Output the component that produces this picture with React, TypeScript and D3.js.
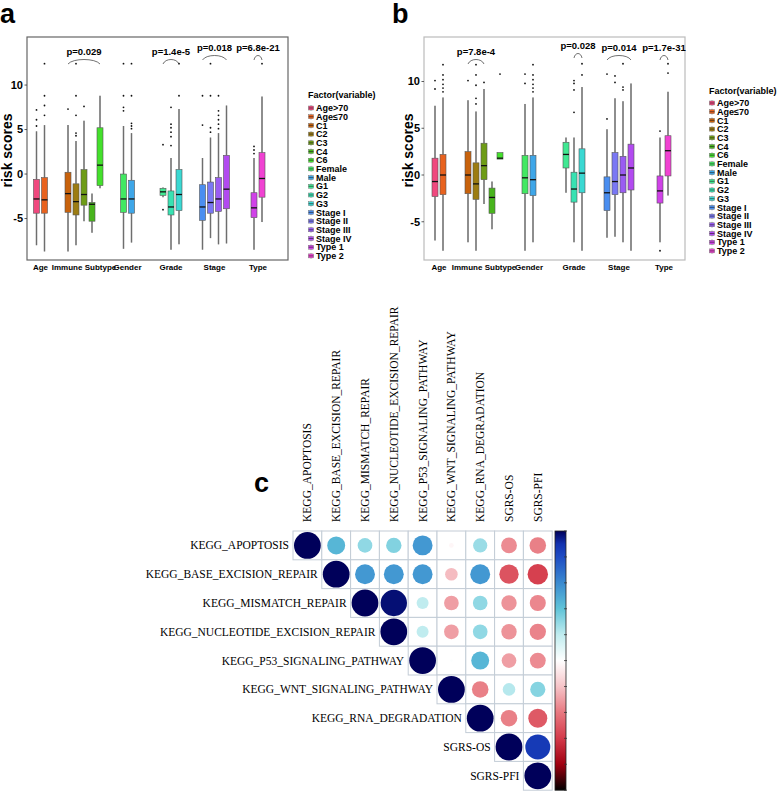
import React from 'react';
import * as d3 from 'd3';

const groups = ["Age", "Immune Subtype", "Gender", "Grade", "Stage", "Type"];
const factors = ["Age>70", "Age≤70", "C1", "C2", "C3", "C4", "C6", "Female", "Male", "G1", "G2", "G3", "Stage I", "Stage II", "Stage III", "Stage IV", "Type 1", "Type 2"];
const factorGroup = [0, 0, 1, 1, 1, 1, 1, 2, 2, 3, 3, 3, 4, 4, 4, 4, 5, 5];
const factorColors = ["#F0487E", "#E8621E", "#C8620C", "#9C7C12", "#6E9C16", "#48B41C", "#44E02C", "#42E862", "#3EA6E8", "#40E892", "#38E2B2", "#3AD8D2", "#4A8EF0", "#7A78F4", "#9A5CF2", "#B24AF0", "#D042E8", "#F042D2"];

// [lower whisker, Q1, median, Q3, upper whisker]
const statsA = [
  [-8.0, -4.4, -2.8, -0.6, 4.8], [-8.7, -4.4, -2.9, -0.4, 5.5],
  [-8.7, -4.3, -2.2, 0.2, 5.5], [-8.0, -4.6, -3.1, -1.1, 3.7], [-5.3, -3.5, -2.3, 0.5, 6.0], [-6.6, -5.3, -3.4, -3.2, -2.2], [-1.6, -1.3, 1.0, 5.2, 8.8],
  [-8.4, -4.3, -2.8, 0.0, 5.4], [-7.7, -4.4, -2.8, -0.7, 4.6],
  [-2.6, -2.4, -2.0, -1.6, -1.5], [-8.5, -4.6, -3.7, -1.9, 1.8], [-7.9, -4.1, -2.3, 0.5, 7.3],
  [-8.5, -5.2, -3.7, -1.2, 1.8], [-7.2, -4.4, -3.2, -0.9, 4.1], [-7.9, -4.2, -2.8, -0.4, 4.6], [-7.8, -3.9, -1.7, 2.1, 7.7],
  [-8.5, -4.9, -3.8, -2.1, 1.8], [-5.4, -2.6, -0.5, 2.4, 8.7],
];
const outliersA = [
  [5.4, 6.1, 7.2], [6.6, 7.7, 8.8, 12.4],
  [7.3], [4.3, 4.6, 6.6, 8.8, 12.4], [7.6], [], [],
  [7.1, 7.5, 8.8, 12.4], [5.1, 5.4, 5.7, 8.8, 12.4],
  [3.3, -4.0], [3.2, 4.2, 4.7, 5.2, 5.6, 7.5], [8.8, 12.4],
  [5.5, 8.8], [4.7, 5.2, 8.8, 12.4], [5.1, 5.6, 6.1, 6.6, 7.1, 8.8], [],
  [2.3, 2.7, 3.1], [12.4],
];
const statsB = [
  [-7.0, -2.3, -0.7, 1.8, 7.4], [-8.1, -2.1, 0.0, 2.2, 8.3],
  [-7.2, -2.0, 0.0, 2.5, 8.0], [-8.1, -2.6, -0.95, 1.3, 6.8], [-3.1, -0.5, 1.0, 3.4, 9.2], [-5.8, -4.1, -2.4, -1.4, -0.7], [1.7, 1.7, 1.8, 2.4, 2.4],
  [-8.1, -2.0, -0.3, 2.1, 7.6], [-7.2, -2.2, -0.5, 2.1, 8.3],
  [-1.9, 0.75, 2.2, 3.5, 4.0], [-7.2, -2.9, -1.5, 0.3, 4.0], [-8.1, -1.9, 0.2, 2.8, 9.4],
  [-6.7, -3.8, -1.9, -0.2, 4.9], [-6.6, -2.1, -0.7, 2.4, 8.2], [-7.2, -1.9, 0.0, 2.0, 7.9], [-8.1, -1.6, 0.75, 3.3, 9.8],
  [-7.2, -3.0, -1.7, -0.1, 4.0], [-2.2, -0.1, 2.6, 4.2, 8.9],
];
const outliersB = [
  [9.2, 10.1], [8.9, 9.3, 9.7, 10.2, 10.7, 11.8],
  [10.1], [7.6, 8.2, 9.6, 10.7, 11.8], [9.9], [], [10.8],
  [9.8, 10.8], [8.9, 9.3, 9.7, 10.2, 10.7, 11.8],
  [], [6.7, 9.1, 9.8, 10.1], [10.7, 11.9],
  [6.0, 10.8], [9.9, 10.6], [9.1, 9.4, 11.9], [],
  [4.7, -8.1], [10.9, 11.9],
];
const yTicks = [-5, 0, 5, 10];
const pLabelsA = ["p=0.029", "p=1.4e-5", "p=0.018", "p=6.8e-21"];
const pSpansA = [[2, 6], [9, 11], [12, 15], [16, 17]];
const pBaseA = [55, 55, 51, 51];
const pLabelsB = ["p=7.8e-4", "p=0.028", "p=0.014", "p=1.7e-31"];
const pSpansB = [[2, 4], [10, 11], [12, 15], [16, 17]];
const pBaseB = [55, 49, 51, 51];

const corrVars = ["KEGG_APOPTOSIS", "KEGG_BASE_EXCISION_REPAIR", "KEGG_MISMATCH_REPAIR", "KEGG_NUCLEOTIDE_EXCISION_REPAIR", "KEGG_P53_SIGNALING_PATHWAY", "KEGG_WNT_SIGNALING_PATHWAY", "KEGG_RNA_DEGRADATION", "SGRS-OS", "SGRS-PFI"];
// upper triangle rows, starting at the diagonal
const corrUpper = [
  [1, 0.45, 0.3, 0.33, 0.55, -0.03, 0.28, -0.35, -0.38],
  [1, 0.55, 0.55, 0.55, -0.22, 0.55, -0.52, -0.58],
  [1, 0.97, 0.2, -0.3, 0.3, -0.33, -0.36],
  [1, 0.2, -0.3, 0.3, -0.33, -0.37],
  [1, 0.01, 0.45, -0.3, -0.35],
  [1, -0.38, 0.22, 0.32],
  [1, -0.38, -0.5],
  [1, 0.87],
  [1],
];
const colorStops = [-1, -0.8, -0.6, -0.4, -0.2, 0, 0.2, 0.4, 0.6, 0.8, 0.9, 1];
const colorValues = ["#000000", "#a00010", "#d43a4a", "#e87880", "#f6c4c8", "#ffffff", "#c0ecef", "#60c4d8", "#3a8ad0", "#1e4cc4", "#1232b0", "#00005a"];
const barTicks = d3.range(-1, 1.0001, 0.2);

const SANS = "'Liberation Sans', Arial, Helvetica, sans-serif";
const SERIF = "'Liberation Serif', 'Times New Roman', serif";

function BoxPanel(props: any) {
  const { stats, outliers, left, right, top, bottom, domain, groupRange, frameColor, pLabels, pSpans, pBase, label, labelX, ylabX, legendX, legendTitleY, legendY0 } = props;
  const y = d3.scaleLinear().domain(domain).range([bottom, top]);
  const gx = d3.scalePoint().domain(groups).range(groupRange);
  const step = 8;
  const bw = 6;
  const cx = factors.map((f, i) => {
    const g = factorGroup[i];
    const members = factorGroup.map((v, j) => (v === g ? j : -1)).filter((j) => j >= 0);
    const k = members.indexOf(i);
    return (gx(groups[g]) as number) + (k - (members.length - 1) / 2) * step;
  });
  return (
    <g>
      <text x={labelX} y={23} fontFamily={SANS} fontWeight="bold" fontSize={27}>{label}</text>
      <rect x={left} y={top} width={right - left} height={bottom - top} fill="#fff" stroke={frameColor} strokeWidth={1.2} />
      {yTicks.map((t) => (
        <g key={t}>
          <line x1={left - 2.5} x2={left} y1={y(t)} y2={y(t)} stroke="#333" strokeWidth={0.8} />
          <text x={left - 4} y={y(t)} dy="0.35em" textAnchor="end" fontFamily={SANS} fontWeight="bold" fontSize={11}>{t}</text>
        </g>
      ))}
      <text transform={`translate(${ylabX},${(top + bottom) / 2 + 2}) rotate(-90)`} textAnchor="middle" fontFamily={SANS} fontWeight="bold" fontSize={14}>risk scores</text>
      {groups.map((g) => (
        <text key={g} x={gx(g)} y={270} textAnchor="middle" fontFamily={SANS} fontWeight="bold" fontSize={8}>{g}</text>
      ))}
      {stats.map((s: number[], i: number) => (
        <g key={i}>
          <line x1={cx[i]} x2={cx[i]} y1={y(s[4])} y2={y(s[3])} stroke="#8a8a8a" strokeWidth={1.6} />
          <line x1={cx[i]} x2={cx[i]} y1={y(s[1])} y2={y(s[0])} stroke="#8a8a8a" strokeWidth={1.6} />
          <line x1={cx[i]} x2={cx[i]} y1={y(s[4])} y2={y(s[3])} stroke="#444" strokeWidth={0.4} />
          <line x1={cx[i]} x2={cx[i]} y1={y(s[1])} y2={y(s[0])} stroke="#444" strokeWidth={0.4} />
          <rect x={cx[i] - bw / 2} y={y(s[3])} width={bw} height={Math.max(1, y(s[1]) - y(s[3]))} fill={factorColors[i]} stroke="#555" strokeWidth={0.6} />
          <line x1={cx[i] - bw / 2} x2={cx[i] + bw / 2} y1={y(s[2])} y2={y(s[2])} stroke="#111" strokeWidth={1.3} />
          {outliers[i].map((o: number, j: number) => (
            <circle key={j} cx={cx[i]} cy={y(o)} r={0.9} fill="#111" />
          ))}
        </g>
      ))}
      {pLabels.map((p: string, i: number) => {
        const x1 = cx[pSpans[i][0]];
        const x2 = cx[pSpans[i][1]];
        const b = pBase[i];
        const mid = (x1 + x2) / 2;
        const path = d3.path();
        path.moveTo(x1, b + 9);
        path.bezierCurveTo(x1 + (x2 - x1) * 0.15, b + 3, x2 - (x2 - x1) * 0.15, b + 3, x2, b + 9);
        return (
          <g key={p}>
            <path d={path.toString()} fill="none" stroke="#333" strokeWidth={0.7} />
            <text x={mid} y={b} textAnchor="middle" fontFamily={SANS} fontWeight="bold" fontSize={9.5}>{p}</text>
          </g>
        );
      })}
      <text x={legendX - 1} y={legendTitleY} fontFamily={SANS} fontWeight="bold" fontSize={9}>Factor(variable)</text>
      {factors.map((f, i) => {
        const ly = legendY0 + i * 8.7;
        return (
          <g key={f}>
            <line x1={legendX + 2} x2={legendX + 2} y1={ly - 3} y2={ly + 3} stroke="#777" strokeWidth={0.6} />
            <rect x={legendX - 0.5} y={ly - 2} width={5} height={4} fill={factorColors[i]} stroke="#666" strokeWidth={0.4} />
            <line x1={legendX - 0.5} x2={legendX + 4.5} y1={ly} y2={ly} stroke="#222" strokeWidth={0.6} />
            <text x={legendX + 7} y={ly} dy="0.35em" fontFamily={SANS} fontWeight="bold" fontSize={9}>{f}</text>
          </g>
        );
      })}
    </g>
  );
}

function CorrPanel() {
  const n = corrVars.length;
  const cell = 28.8;
  const x0 = 293;
  const y0 = 531;
  const xs = d3.scaleBand().domain(corrVars).range([x0, x0 + n * cell]);
  const ys = d3.scaleBand().domain(corrVars).range([y0, y0 + n * cell]);
  const color = d3.scaleLinear<string>().domain(colorStops).range(colorValues).interpolate(d3.interpolateRgb);
  const rScale = d3.scaleSqrt().domain([0, 1]).range([0, cell / 2 - 1]);
  const barX = 555;
  const barW = 11;
  const bar = d3.scaleLinear().domain([-1, 1]).range([y0 + n * cell, y0]);
  const gradStops = d3.range(0, 1.0001, 0.05);
  return (
    <g>
      <defs>
        <linearGradient id="cbar" x1="0" y1="1" x2="0" y2="0">
          {gradStops.map((t) => (
            <stop key={t} offset={t} stopColor={color(-1 + 2 * t)} />
          ))}
        </linearGradient>
      </defs>
      <text x={254} y={492} fontFamily={SANS} fontWeight="bold" fontSize={27}>c</text>
      {corrVars.map((v) => (
        <text key={v} transform={`translate(${(xs(v) as number) + cell / 2},${y0 - 9}) rotate(-90)`} dy="0.35em" fontFamily={SERIF} fontSize={11.5}>{v}</text>
      ))}
      {corrVars.map((v, i) => (
        <text key={v} x={(xs(v) as number) - 4} y={(ys(v) as number) + cell / 2} dy="0.35em" textAnchor="end" fontFamily={SERIF} fontSize={11.5}>{v}</text>
      ))}
      {corrUpper.map((row, i) =>
        row.map((r, k) => {
          const j = i + k;
          const x = xs(corrVars[j]) as number;
          const yy = ys(corrVars[i]) as number;
          return (
            <g key={`${i}-${j}`}>
              <rect x={x} y={yy} width={cell} height={cell} fill="#fff" stroke="#c3ccd6" strokeWidth={1} />
              <circle cx={x + cell / 2} cy={yy + cell / 2} r={rScale(Math.abs(r))} fill={color(r)} />
            </g>
          );
        })
      )}
      <rect x={barX} y={bar(1)} width={barW} height={bar(-1) - bar(1)} fill="url(#cbar)" stroke="#222" strokeWidth={0.8} />
      {barTicks.map((t, i) => (
        <line key={i} x1={barX + barW - 2} x2={barX + barW + 1} y1={bar(t)} y2={bar(t)} stroke="#333" strokeWidth={0.8} />
      ))}
    </g>
  );
}

export default function App() {
  return (
    <svg width={778} height={791} style={{ position: 'absolute', left: 0, top: 0, background: '#fff' }}>
      <rect width={778} height={791} fill="#fff" />
      <BoxPanel stats={statsA} outliers={outliersA} left={27} right={288} top={37} bottom={260} domain={[-9.66, 15.4]} groupRange={[40.5, 258]} frameColor="#666" pLabels={pLabelsA} pSpans={pSpansA} pBase={pBaseA} label="a" labelX={0} ylabX={12} legendX={309} legendTitleY={98} legendY0={108} />
      <BoxPanel stats={statsB} outliers={outliersB} left={424} right={685} top={37} bottom={260} domain={[-9.09, 14.76]} groupRange={[439, 664]} frameColor="#bbb" pLabels={pLabelsB} pSpans={pSpansB} pBase={pBaseB} label="b" labelX={392} ylabX={413} legendX={710} legendTitleY={94} legendY0={103} />
      <CorrPanel />
    </svg>
  );
}
